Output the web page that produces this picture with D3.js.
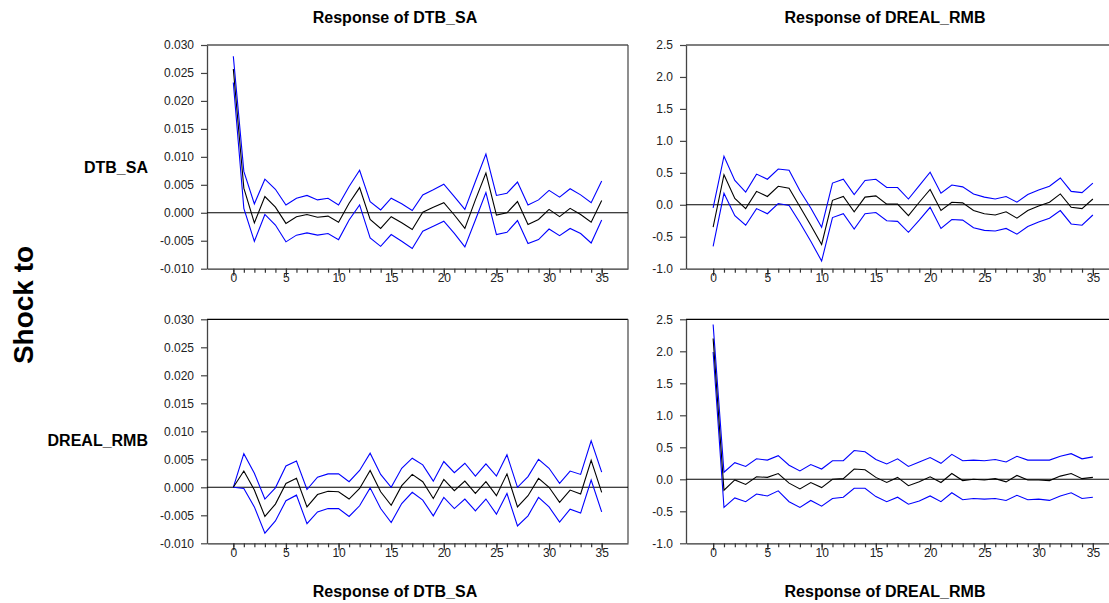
<!DOCTYPE html>
<html>
<head>
<meta charset="utf-8">
<script src="https://cdn.jsdelivr.net/npm/d3@7"></script>
<style>
  body { margin: 0; background: #fff; }
  svg { display: block; font-family: "Liberation Sans", Arial, sans-serif; }
</style>
</head>
<body>
<svg id="chart" width="1109" height="603"></svg>
<script>
// ---------- DATA ----------
const periods = [0,1,2,3,4,5,6,7,8,9,10,11,12,13,14,15,16,17,18,19,20,21,22,23,24,25,26,27,28,29,30,31,32,33,34,35];
const majorXTicks = [0,5,10,15,20,25,30,35];
const smallYTicks = [0.030,0.025,0.020,0.015,0.010,0.005,0.000,-0.005,-0.010];
const largeYTicks = [2.5,2.0,1.5,1.0,0.5,0.0,-0.5,-1.0];

const columnTitles = ["Response of DTB_SA", "Response of DREAL_RMB"];
const rowTitles = ["DTB_SA", "DREAL_RMB"];
const sideTitle = "Shock to";

// Response of DTB_SA to DTB_SA
const dtbDtbResp  = [0.0257,0.0044,-0.0018,0.0029,0.0010,-0.0019,-0.0007,-0.0003,-0.0008,-0.0006,-0.0017,0.0017,0.0045,-0.0012,-0.0028,-0.0007,-0.0018,-0.0030,0.0001,0.0010,0.0018,-0.0004,-0.0028,0.0023,0.0071,-0.0004,0.0000,0.0020,-0.0021,-0.0012,0.0006,-0.0007,0.0008,-0.0003,-0.0017,0.0022];
const dtbDtbUpper = [0.0280,0.0074,0.0016,0.0060,0.0042,0.0014,0.0026,0.0031,0.0023,0.0026,0.0014,0.0047,0.0076,0.0020,0.0005,0.0026,0.0016,0.0004,0.0032,0.0041,0.0051,0.0029,0.0006,0.0056,0.0105,0.0031,0.0035,0.0055,0.0014,0.0023,0.0040,0.0028,0.0043,0.0032,0.0018,0.0057];
const dtbDtbLower = [0.0233,0.0008,-0.0051,-0.0003,-0.0022,-0.0052,-0.0040,-0.0036,-0.0040,-0.0037,-0.0048,-0.0013,0.0014,-0.0045,-0.0060,-0.0039,-0.0051,-0.0064,-0.0033,-0.0024,-0.0015,-0.0037,-0.0061,-0.0013,0.0036,-0.0039,-0.0035,-0.0014,-0.0055,-0.0048,-0.0029,-0.0041,-0.0028,-0.0037,-0.0054,-0.0013];

// Response of DREAL_RMB to DTB_SA
const rmbDtbResp  = [-0.35,0.47,0.10,-0.06,0.21,0.13,0.29,0.26,-0.03,-0.32,-0.62,0.07,0.13,-0.11,0.12,0.14,0.01,0.01,-0.17,0.04,0.24,-0.09,0.04,0.03,-0.09,-0.14,-0.16,-0.11,-0.21,-0.09,-0.02,0.04,0.17,-0.04,-0.06,0.09];
const rmbDtbUpper = [-0.05,0.76,0.38,0.20,0.48,0.40,0.56,0.54,0.22,-0.05,-0.35,0.34,0.40,0.16,0.38,0.40,0.27,0.27,0.09,0.30,0.51,0.18,0.31,0.28,0.17,0.12,0.09,0.13,0.04,0.16,0.23,0.29,0.42,0.21,0.19,0.34];
const rmbDtbLower = [-0.65,0.18,-0.17,-0.32,-0.06,-0.14,0.02,-0.01,-0.28,-0.57,-0.88,-0.20,-0.14,-0.38,-0.14,-0.12,-0.25,-0.26,-0.43,-0.24,-0.04,-0.37,-0.23,-0.24,-0.36,-0.40,-0.41,-0.37,-0.46,-0.34,-0.27,-0.21,-0.09,-0.30,-0.32,-0.16];

// Response of DTB_SA to DREAL_RMB
const dtbRmbResp  = [0,0.0029,-0.0005,-0.0052,-0.0030,0.0007,0.0016,-0.0035,-0.0013,-0.0007,-0.0008,-0.0021,-0.0002,0.0030,-0.0008,-0.0032,0.0003,0.0023,0.0010,-0.0020,0.0014,-0.0006,0.0011,-0.0011,0.0010,-0.0015,0.0024,-0.0035,-0.0015,0.0016,0.0000,-0.0027,-0.0005,-0.0012,0.0048,-0.0009];
const dtbRmbUpper = [0,0.0060,0.0025,-0.0021,-0.0001,0.0038,0.0047,-0.0004,0.0018,0.0024,0.0024,0.0010,0.0030,0.0061,0.0023,0.0000,0.0034,0.0052,0.0040,0.0011,0.0046,0.0026,0.0043,0.0020,0.0042,0.0020,0.0058,0.0000,0.0019,0.0050,0.0034,0.0007,0.0029,0.0023,0.0083,0.0027];
const dtbRmbLower = [0,-0.0002,-0.0035,-0.0082,-0.0060,-0.0024,-0.0014,-0.0065,-0.0044,-0.0038,-0.0038,-0.0052,-0.0033,-0.0001,-0.0038,-0.0063,-0.0029,-0.0009,-0.0023,-0.0051,-0.0018,-0.0038,-0.0021,-0.0042,-0.0021,-0.0048,-0.0011,-0.0069,-0.0051,-0.0018,-0.0035,-0.0062,-0.0039,-0.0046,0.0013,-0.0044];

// Response of DREAL_RMB to DREAL_RMB
const rmbRmbResp  = [2.20,-0.17,-0.01,-0.08,0.04,0.03,0.09,-0.06,-0.15,-0.05,-0.13,0.00,0.01,0.16,0.15,0.03,-0.05,0.03,-0.10,-0.04,0.04,-0.05,0.09,-0.02,0.00,-0.01,0.01,-0.04,0.06,-0.01,-0.01,-0.02,0.05,0.09,0.01,0.03];
const rmbRmbUpper = [2.42,0.11,0.26,0.20,0.32,0.30,0.37,0.22,0.13,0.23,0.16,0.29,0.29,0.45,0.43,0.31,0.24,0.32,0.20,0.27,0.34,0.25,0.39,0.29,0.30,0.29,0.31,0.27,0.36,0.30,0.30,0.30,0.36,0.40,0.32,0.35];
const rmbRmbLower = [1.99,-0.44,-0.29,-0.35,-0.23,-0.26,-0.18,-0.35,-0.44,-0.33,-0.42,-0.30,-0.28,-0.14,-0.14,-0.27,-0.35,-0.28,-0.39,-0.34,-0.26,-0.35,-0.21,-0.32,-0.30,-0.31,-0.30,-0.33,-0.25,-0.32,-0.31,-0.33,-0.26,-0.21,-0.30,-0.28];

// ---------- LAYOUT ----------
const svg = d3.select("#chart");
const cols = [{x0: 207, x1: 628}, {x0: 686, x1: 1120}];
const rows = [{y0: 45, y1: 268.7}, {y0: 319.3, y1: 543.3}];

const panels = [
  {row: 0, col: 0, ticks: smallYTicks, fmt: 3, resp: dtbDtbResp, up: dtbDtbUpper, lo: dtbDtbLower},
  {row: 0, col: 1, ticks: largeYTicks, fmt: 1, resp: rmbDtbResp, up: rmbDtbUpper, lo: rmbDtbLower},
  {row: 1, col: 0, ticks: smallYTicks, fmt: 3, resp: dtbRmbResp, up: dtbRmbUpper, lo: dtbRmbLower},
  {row: 1, col: 1, ticks: largeYTicks, fmt: 1, resp: rmbRmbResp, up: rmbRmbUpper, lo: rmbRmbLower}
];

panels.forEach(p => {
  const c = cols[p.col], r = rows[p.row];
  const x = d3.scaleLinear().domain([-2.5, 37.5]).range([c.x0, c.x1]);
  const y = d3.scaleLinear().domain([d3.min(p.ticks), d3.max(p.ticks)]).range([r.y1, r.y0]);
  const g = svg.append("g");

  // frame: top and right
  g.append("line").attr("x1", c.x0).attr("x2", c.x1).attr("y1", r.y0).attr("y2", r.y0)
    .attr("stroke", "#000").attr("stroke-width", 1.2);
  g.append("line").attr("x1", c.x1).attr("x2", c.x1).attr("y1", r.y0).attr("y2", r.y1)
    .attr("stroke", "#444").attr("stroke-width", 1.2);

  // y axis
  const ya = g.append("g").attr("transform", `translate(${c.x0},0)`)
    .call(d3.axisLeft(y).tickValues(p.ticks).tickSize(6).tickSizeOuter(0).tickPadding(7)
      .tickFormat(d => d.toFixed(p.fmt)));
  ya.select(".domain").attr("stroke", "#444").attr("stroke-width", 1.3);
  ya.selectAll(".tick line").attr("stroke", "#444").attr("stroke-width", 1.2);
  ya.selectAll("text").attr("font-size", 12).attr("fill", "#222")
    .attr("font-family", "Liberation Sans, Arial, sans-serif");

  // x axis minor ticks
  const xm = g.append("g").attr("transform", `translate(0,${r.y1})`)
    .call(d3.axisBottom(x).tickValues(periods).tickSize(4).tickSizeOuter(0).tickFormat(""));
  xm.select(".domain").attr("stroke", "#333").attr("stroke-width", 1.3);
  xm.selectAll(".tick line").attr("stroke", "#333").attr("stroke-width", 1.2);

  // x axis major ticks
  const xa = g.append("g").attr("transform", `translate(0,${r.y1})`)
    .call(d3.axisBottom(x).tickValues(majorXTicks).tickSize(7).tickSizeOuter(0).tickPadding(0)
      .tickFormat(d3.format("d")));
  xa.select(".domain").remove();
  xa.selectAll(".tick line").attr("stroke", "#333").attr("stroke-width", 1.2);
  xa.selectAll("text").attr("font-size", 12).attr("fill", "#222").attr("dy", null)
    .attr("y", 13.5).attr("font-family", "Liberation Sans, Arial, sans-serif");

  // zero line
  g.append("line").attr("x1", c.x0).attr("x2", c.x1).attr("y1", y(0)).attr("y2", y(0))
    .attr("stroke", "#000").attr("stroke-width", 1.1);

  const line = d3.line().x((d, i) => x(periods[i])).y(d => y(d));
  g.append("path").datum(p.up).attr("d", line).attr("fill", "none")
    .attr("stroke", "#0000ff").attr("stroke-width", 1.1);
  g.append("path").datum(p.lo).attr("d", line).attr("fill", "none")
    .attr("stroke", "#0000ff").attr("stroke-width", 1.1);
  g.append("path").datum(p.resp).attr("d", line).attr("fill", "none")
    .attr("stroke", "#000").attr("stroke-width", 1.1);
});

// ---------- TEXT ----------
const titleX = [395, 885];
columnTitles.forEach((t, i) => {
  svg.append("text").attr("x", titleX[i]).attr("y", 23).attr("text-anchor", "middle")
    .attr("font-size", 16).attr("font-weight", "bold").attr("fill", "#000").text(t);
  svg.append("text").attr("x", titleX[i]).attr("y", 597).attr("text-anchor", "middle")
    .attr("font-size", 16).attr("font-weight", "bold").attr("fill", "#000").text(t);
});
const rowY = [173, 446];
rowTitles.forEach((t, i) => {
  svg.append("text").attr("x", 148).attr("y", rowY[i]).attr("text-anchor", "end")
    .attr("font-size", 16).attr("font-weight", "bold").attr("fill", "#000").text(t);
});
svg.append("text").attr("transform", "translate(33,305) rotate(-90)")
  .attr("text-anchor", "middle").attr("font-size", 28).attr("font-weight", "bold")
  .attr("fill", "#000").text(sideTitle);
</script>
</body>
</html>
